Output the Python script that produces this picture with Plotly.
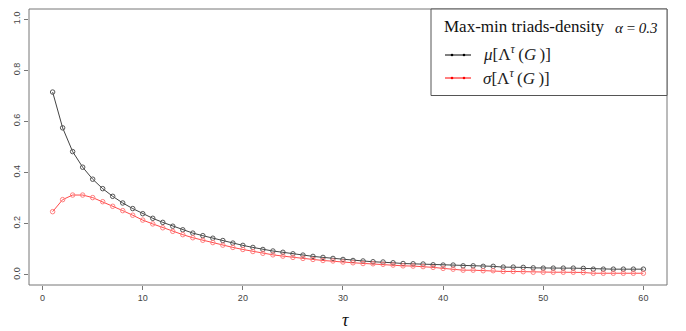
import plotly.graph_objects as go

tau = list(range(1, 61))
mean_vals = [0.715, 0.575, 0.482, 0.421, 0.374, 0.337, 0.307, 0.281, 0.259, 0.239,
             0.221, 0.205, 0.190, 0.176, 0.163, 0.153, 0.143, 0.134, 0.124, 0.115,
             0.107, 0.099, 0.093, 0.088, 0.082, 0.077, 0.072, 0.068, 0.064, 0.060,
             0.056, 0.054, 0.051, 0.050, 0.047, 0.044, 0.043, 0.042, 0.039, 0.038,
             0.038, 0.035, 0.035, 0.033, 0.033, 0.030, 0.030, 0.029, 0.027, 0.026,
             0.026, 0.026, 0.026, 0.025, 0.022, 0.022, 0.022, 0.022, 0.022, 0.022]
std_vals = [0.247, 0.294, 0.312, 0.312, 0.302, 0.286, 0.268, 0.251, 0.233, 0.214,
            0.199, 0.184, 0.170, 0.157, 0.145, 0.135, 0.126, 0.116, 0.107, 0.099,
            0.091, 0.084, 0.078, 0.073, 0.068, 0.064, 0.060, 0.056, 0.054, 0.050,
            0.047, 0.044, 0.043, 0.041, 0.038, 0.035, 0.034, 0.032, 0.029, 0.025,
            0.022, 0.018, 0.018, 0.016, 0.016, 0.013, 0.013, 0.012, 0.010, 0.010,
            0.010, 0.010, 0.010, 0.009, 0.006, 0.006, 0.006, 0.006, 0.006, 0.006]
x_ticks = [0, 10, 20, 30, 40, 50, 60]
y_ticks = [0.0, 0.2, 0.4, 0.6, 0.8, 1.0]
y_tick_labels = ["0.0", "0.2", "0.4", "0.6", "0.8", "1.0"]

W, H = 686, 331
L, R, T, B = 29, 667, 9, 285


def px(xp):
    return (xp - L) / (R - L)


def py(yp):
    return (B - yp) / (B - T)


fig = go.Figure()
fig.add_trace(go.Scatter(
    x=tau, y=mean_vals, mode="lines+markers",
    line=dict(color="#444444", width=1),
    marker=dict(symbol="circle-open", size=4.5, color="#555555", line=dict(width=1)),
    showlegend=False))
fig.add_trace(go.Scatter(
    x=tau, y=std_vals, mode="lines+markers",
    line=dict(color="#ff4a4a", width=1),
    marker=dict(symbol="circle-open", size=4.5, color="#ff8080", line=dict(width=1)),
    showlegend=False))

tickfont = dict(family="Liberation Sans, Arial", size=9, color="#444444")
fig.update_xaxes(range=[-1.36, 62.36], tickvals=x_ticks, ticks="outside", ticklen=4,
                 tickcolor="#777777", tickwidth=1, showgrid=False, zeroline=False,
                 showline=False, tickfont=tickfont)
fig.update_yaxes(range=[-0.04, 1.04], tickvals=y_ticks, ticktext=y_tick_labels,
                 ticks="outside", ticklen=4, tickcolor="#777777", tickwidth=1,
                 showgrid=False, zeroline=False, showline=False, tickangle=-90,
                 tickfont=tickfont)

shapes = []
# plot box
shapes.append(dict(type="rect", xref="paper", yref="paper", x0=0, x1=1, y0=0, y1=1,
                   line=dict(color="#777777", width=1)))
# legend box
shapes.append(dict(type="rect", xref="paper", yref="paper", x0=px(431), x1=1,
                   y0=py(95.5), y1=1, line=dict(color="#555555", width=1),
                   fillcolor="white", layer="above"))
# legend entries
for yl, col in [(55, "#000000"), (78, "#ff0000")]:
    shapes.append(dict(type="line", xref="paper", yref="paper", x0=px(445), x1=px(471),
                       y0=py(yl), y1=py(yl), line=dict(color=col, width=1), layer="above"))
    for xd in (452, 464):
        r = 1.3
        shapes.append(dict(type="circle", xref="paper", yref="paper",
                           x0=px(xd - r), x1=px(xd + r), y0=py(yl + r), y1=py(yl - r),
                           fillcolor=col, line=dict(color=col, width=0), layer="above"))

hs = "\u2009"
annotations = [
    dict(text="Max-min triads-density", xref="paper", yref="paper", x=px(442), y=py(27),
         xanchor="left", yanchor="middle", showarrow=False,
         font=dict(family="Liberation Serif", size=17, color="#111111")),
    dict(text="<i>α</i> = <i>0.3</i>", xref="paper", yref="paper", x=px(660), y=py(28),
         xanchor="right", yanchor="middle", showarrow=False,
         font=dict(family="Liberation Serif", size=15, color="#111111")),
    dict(text=f"<i>μ</i>[Λ<sup><i>τ</i></sup>{hs}(<i>G</i>{hs})]", xref="paper", yref="paper",
         x=px(481), y=py(53), xanchor="left", yanchor="middle", showarrow=False,
         font=dict(family="Liberation Serif", size=17, color="#222222")),
    dict(text=f"<i>σ</i>[Λ<sup><i>τ</i></sup>{hs}(<i>G</i>{hs})]", xref="paper", yref="paper",
         x=px(481), y=py(77), xanchor="left", yanchor="middle", showarrow=False,
         font=dict(family="Liberation Serif", size=17, color="#222222")),
    dict(text="<i>τ</i>", xref="paper", yref="paper", x=px(345), y=py(320),
         xanchor="center", yanchor="middle", showarrow=False,
         font=dict(family="Liberation Serif", size=18, color="#111111")),
]

fig.update_layout(width=W, height=H, margin=dict(l=L, r=W - R, t=T, b=H - B),
                  plot_bgcolor="white", paper_bgcolor="white",
                  shapes=shapes, annotations=annotations)

fig.write_html("out.html")
